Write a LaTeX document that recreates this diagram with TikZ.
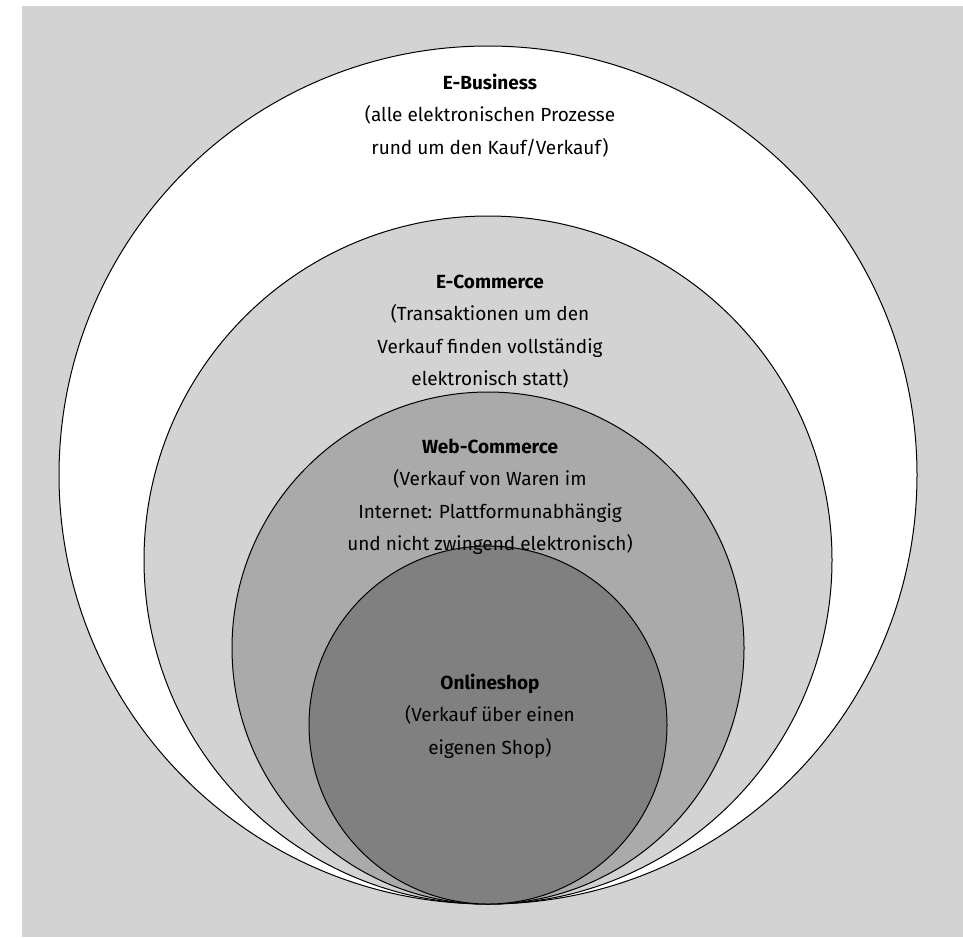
\documentclass[tikz,border=0pt]{standalone}
\usepackage{fontspec}
\setmainfont{Fira Sans}
\definecolor{bggray}{HTML}{D3D3D3}
\definecolor{ecgray}{HTML}{D3D3D3}
\definecolor{wcgray}{HTML}{AAAAAA}
\definecolor{osgray}{HTML}{808080}
\tikzset{
  ring/.style={circle, draw=black, line width=1pt, inner sep=0pt, outer sep=0pt},
  label text/.style={align=center, font=\fontsize{19}{32.5}\selectfont, text=black, inner sep=0pt}
}
\begin{document}
\begin{tikzpicture}[x=1pt,y=-1pt]
\path[use as bounding box] (0,0) rectangle (963,937);
\fill[bggray] (22,6) rectangle (963,937);
\node[ring, fill=white, minimum size=858pt] (eb) at (488,475) {};
\node[ring, fill=ecgray, minimum size=688pt] (ec) at (488,560) {};
\node[ring, fill=wcgray, minimum size=512pt] (wc) at (488,648) {};
\node[ring, fill=osgray, minimum size=358pt] (os) at (488,725) {};
\node[label text] (tb) at (490,115.5) {\textbf{E-Business}\\(alle elektronischen Prozesse\\rund um den Kauf/Verkauf)};
\node[label text] (tc) at (490,331.5) {\textbf{E-Commerce}\\(Transaktionen um den\\Verkauf finden vollständig\\elektronisch statt)};
\node[label text] (tw) at (490,497) {\textbf{Web-Commerce}\\(Verkauf von Waren im\\Internet: Plattformunabhängig\\und nicht zwingend elektronisch)};
\node[label text] (ts) at (490,716) {\textbf{Onlineshop}\\(Verkauf über einen\\eigenen Shop)};
\end{tikzpicture}
\end{document}
